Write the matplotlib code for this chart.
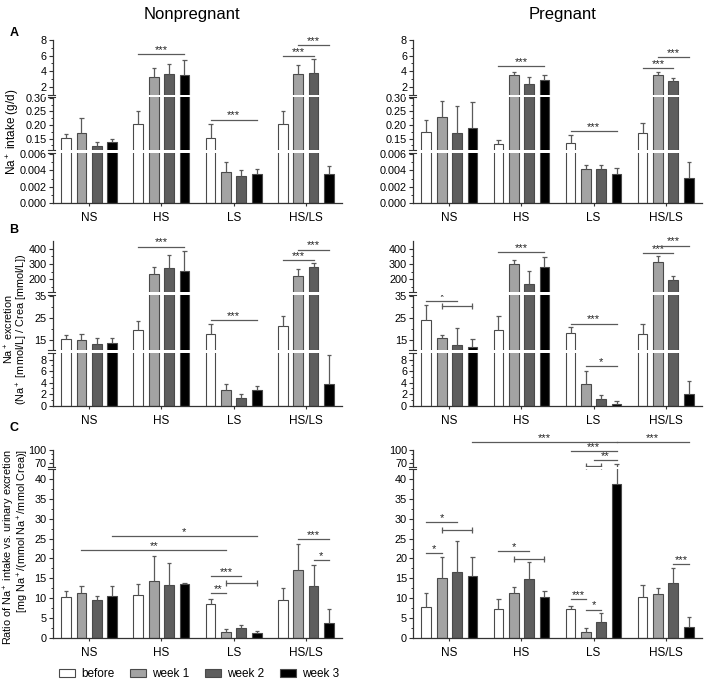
import numpy as np
import matplotlib
matplotlib.use("Agg")
import matplotlib.pyplot as plt
from matplotlib.patches import Patch

plt.rcParams['font.family'] = ['Liberation Sans', 'DejaVu Sans']
plt.rcParams['mathtext.fontset'] = 'custom'
plt.rcParams['mathtext.rm'] = 'Liberation Sans'
plt.rcParams['mathtext.it'] = 'Liberation Sans:italic'
plt.rcParams['mathtext.default'] = 'rm'

NARROW = ['Liberation Sans Narrow', 'Liberation Sans']

# ---- data (rows = NS, HS, LS, HS/LS ; cols = before, week 1, week 2, week 3)
groups = ['NS', 'HS', 'LS', 'HS/LS']
weeks = ['before', 'week 1', 'week 2', 'week 3']
bar_colors = ['#ffffff', '#a3a3a3', '#5e5e5e', '#000000']

# A: Na+ intake (g/d)
a_np_mean = [[0.151, 0.172, 0.123, 0.138],
             [0.204, 3.24, 3.6, 3.5],
             [0.153, 0.0038, 0.0033, 0.0036],
             [0.204, 3.6, 3.8, 0.0036]]
a_np_top = [[0.165, 0.227, 0.139, 0.150],
            [0.252, 4.4, 4.9, 5.4],
            [0.205, 0.0050, 0.0040, 0.0041],
            [0.253, 4.8, 5.6, 0.0045]]
a_p_mean = [[0.173, 0.228, 0.171, 0.187],
            [0.13, 3.45, 2.4, 2.85],
            [0.135, 0.0042, 0.0041, 0.0035],
            [0.172, 3.5, 2.7, 0.0031]]
a_p_top = [[0.22, 0.289, 0.269, 0.283],
           [0.146, 3.85, 3.2, 3.45],
           [0.163, 0.0047, 0.0046, 0.0043],
           [0.206, 3.85, 3.15, 0.005]]

# B: Na+ excretion
b_np_mean = [[15.3, 15.0, 13.0, 13.5],
             [19.4, 235, 275, 253],
             [17.9, 2.7, 1.4, 2.7],
             [21.2, 218, 281, 3.7]]
b_np_top = [[17.3, 17.7, 15.8, 15.8],
            [23.6, 281, 360, 387],
            [22.1, 3.8, 2.0, 3.4],
            [25.9, 266, 303, 8.9]]
b_p_mean = [[24.1, 15.8, 12.9, 12.0],
            [19.5, 300, 170, 278],
            [18.0, 3.7, 1.2, 0.3],
            [17.7, 311, 194, 2.0]]
b_p_top = [[30.8, 17.3, 20.3, 15.3],
           [25.8, 324, 253, 346],
           [20.9, 6.0, 1.85, 0.85],
           [22.4, 351, 222, 4.35]]

# C: ratio intake / excretion
c_np_mean = [[10.3, 11.4, 9.6, 10.7],
             [10.8, 14.3, 13.4, 13.5],
             [8.5, 1.5, 2.5, 1.3],
             [9.7, 17.1, 13.1, 3.9]]
c_np_top = [[11.9, 13.1, 10.5, 13.2],
            [13.7, 20.5, 18.8, 13.8],
            [9.8, 2.25, 3.3, 1.75],
            [12.5, 23.6, 18.3, 7.3]]
c_p_mean = [[7.9, 15.0, 16.55, 15.7],
            [7.4, 11.3, 14.9, 10.4],
            [7.4, 1.5, 4.1, 38.65],
            [10.3, 11.2, 13.9, 2.85]]
c_p_top = [[11.4, 20.4, 24.5, 20.4],
           [9.9, 12.9, 19.1, 11.9],
           [8.15, 2.5, 6.4, 68],
           [13.4, 12.7, 17.5, 5.4]]

# significance: (group1, bar1, group2, bar2, y, label, bracket)
a_np_sig = [(1, 0, 1, 3, 6.15, '***', False), (2, 0, 2, 3, 0.22, '***', False),
            (3, 0, 3, 2, 5.95, '***', False), (3, 1, 3, 3, 7.36, '***', False)]
a_p_sig = [(1, 0, 1, 3, 4.65, '***', False), (2, 0, 2, 3, 0.178, '***', False),
           (3, 0, 3, 2, 4.35, '***', False), (3, 1, 3, 3, 5.77, '***', False)]
b_np_sig = [(1, 0, 1, 3, 413, '***', False), (2, 0, 2, 3, 23.9, '***', False),
            (3, 0, 3, 2, 325, '***', False), (3, 1, 3, 3, 393, '***', False)]
b_p_sig = [(0, 0, 0, 2, 32.6, '*', False), (0, 1, 0, 3, 30.2, '', True),
           (1, 0, 1, 3, 378, '***', False), (2, 0, 2, 3, 22.4, '***', False),
           (2, 1, 2, 3, 6.9, '*', False), (3, 0, 3, 2, 369, '***', False),
           (3, 1, 3, 3, 420, '***', False)]
c_np_sig = [(0, 3, 2, 3, 25.6, '*', False), (0, 1, 2, 1, 22.05, '**', False),
            (2, 0, 2, 2, 15.6, '***', False), (2, 1, 2, 3, 13.8, '', True),
            (2, 0, 2, 1, 11.3, '**', False), (3, 1, 3, 3, 24.8, '***', False),
            (3, 2, 3, 3, 19.6, '*', False)]
c_p_sig = [(0, 3, 2, 3, 117.4, '***', False), (2, 3, 3, 3, 117.4, '***', False),
           (2, 0, 2, 3, 97.3, '***', False), (2, 1.5, 2, 3, 77, '**', False),
           (2, 1, 2, 2, 63.5, '', True), (0, 0, 0, 2, 29.1, '*', False),
           (0, 1, 0, 3, 27.05, '', True), (0, 0, 0, 1, 21.4, '*', False),
           (1, 0, 1, 2, 21.9, '*', False), (1, 1, 1, 3, 19.8, '', True),
           (2, 0, 2, 1, 9.75, '***', False), (2, 1, 2, 2, 7.2, '*', False),
           (3, 2, 3, 3, 18.5, '***', False)]

# broken axes: value knots -> pixel height, plus gaps and ticks
a_knots = ([0, 0.0061, 0.108, 0.303, 1.0, 8], [0, 50.3, 53.3, 106.4, 108.8, 163.3])
a_gaps = [(0.0061, 0.108), (0.303, 1.0)]
a_ticks = [0, 0.002, 0.004, 0.006, 0.15, 0.20, 0.25, 0.30, 2, 4, 6, 8]
a_labels = ['0.000', '0.002', '0.004', '0.006', '0.15', '0.20', '0.25', '0.30', '2', '4', '6', '8']
a_minor = [0.001, 0.003, 0.005, 0.125, 0.175, 0.225, 0.275, 1, 3, 5, 7]

b_knots = ([0, 9.2, 10.5, 35.5, 115, 450], [0, 52.9, 55.9, 110.9, 113.7, 164.5])
b_gaps = [(9.2, 10.5), (35.5, 115)]
b_ticks = [0, 2, 4, 6, 8, 15, 25, 35, 200, 300, 400]
b_labels = ['0', '2', '4', '6', '8', '15', '25', '35', '200', '300', '400']
b_minor = [1, 3, 5, 7, 20, 30, 150, 250, 350]

c_knots = ([0, 42.4, 63, 100], [0, 169.2, 171.8, 188.3])
c_gaps = [(42.4, 63)]
c_ticks = [0, 5, 10, 15, 20, 25, 30, 35, 40, 70, 100]
c_labels = [str(t) for t in c_ticks]
c_minor = [2.5, 7.5, 12.5, 17.5, 22.5, 27.5, 32.5, 37.5, 80, 90]

EDGE = '#4a4a4a'
LINE = '#5a5a5a'
W = 0.213


def bx(g, b):
    return g + (b - 1.5) * W


def piecewise(vals, pix):
    v = np.array(vals, float)
    p = np.array(pix, float)
    s0 = (p[1] - p[0]) / (v[1] - v[0])
    s1 = (p[-1] - p[-2]) / (v[-1] - v[-2])
    v = np.r_[v[0] - 1e3, v, v[-1] + 1e3]
    p = np.r_[p[0] - 1e3 * s0, p, p[-1] + 1e3 * s1]
    return (lambda x: np.interp(x, v, p)), (lambda y: np.interp(y, p, v))


def panel(ax, mean, top, sigs, knots, gaps, ticks, labels, minor):
    fwd, inv = piecewise(*knots)
    ax.set_yscale('function', functions=(fwd, inv))
    ax.set_xlim(-0.5, 3.5)
    ax.set_ylim(0, knots[0][-1])
    mean = np.array(mean)
    top = np.array(top)
    for b in range(4):
        xs = [bx(g, b) for g in range(4)]
        ax.bar(xs, mean[:, b], width=0.135, color=bar_colors[b],
               edgecolor=EDGE, linewidth=0.8, zorder=2)
        ax.vlines(xs, mean[:, b], top[:, b], color=LINE, lw=0.9, zorder=3)
        ax.hlines(top[:, b], np.array(xs) - 0.03, np.array(xs) + 0.03,
                  color=LINE, lw=0.9, zorder=3)
    # white breaks
    ytr = ax.get_yaxis_transform()
    for lo, hi in gaps:
        ax.axhspan(lo, hi, xmin=-0.03, xmax=1.0, color='white', zorder=5,
                   clip_on=False, lw=0)
        for yv in (lo, hi):
            ax.plot([-0.016, 0.008], [yv, yv], transform=ytr, color='#333333',
                    lw=0.8, clip_on=False, zorder=6)
    for g1, b1, g2, b2, y, lab, br in sigs:
        x1, x2 = bx(g1, b1), bx(g2, b2)
        ax.plot([x1, x2], [y, y], color=LINE, lw=0.9, clip_on=False, zorder=4)
        if br:
            ax.plot([x1, x2], [y, y], ls='none', marker='|', ms=5,
                    mew=0.9, color=LINE, clip_on=False, zorder=4)
        if lab:
            ax.annotate(lab, ((x1 + x2) / 2, y), xytext=(0, -0.5),
                        textcoords='offset points', ha='center', va='bottom',
                        fontsize=8, color='#222222', annotation_clip=False)
    ax.set_yticks(ticks)
    ax.set_yticklabels(labels, family=NARROW)
    ax.set_yticks(minor, minor=True)
    ax.set_xticks(range(4))
    ax.set_xticklabels(groups)
    ax.tick_params(axis='y', labelsize=7.8, length=3, width=0.8, color='#333333', pad=1.5)
    ax.tick_params(axis='y', which='minor', length=1.8, width=0.7, color='#333333')
    ax.tick_params(axis='x', labelsize=8.5, length=2.5, width=0.8, color='#333333', pad=4)
    for s in ('top', 'right'):
        ax.spines[s].set_visible(False)
    for s in ('left', 'bottom'):
        ax.spines[s].set_color('#333333')
        ax.spines[s].set_linewidth(0.9)


fig = plt.figure(figsize=(7.09, 6.85), dpi=100)
FW, FH = 709.0, 685.0
cols = [(53, 342), (413.3, 701.7)]
rows = [(40, 203.3), (241.2, 405.7), (450, 638.3)]
specs = [
    (a_np_mean, a_np_top, a_np_sig, a_p_mean, a_p_top, a_p_sig, a_knots, a_gaps, a_ticks, a_labels, a_minor),
    (b_np_mean, b_np_top, b_np_sig, b_p_mean, b_p_top, b_p_sig, b_knots, b_gaps, b_ticks, b_labels, b_minor),
    (c_np_mean, c_np_top, c_np_sig, c_p_mean, c_p_top, c_p_sig, c_knots, c_gaps, c_ticks, c_labels, c_minor),
]
for (t, bt), sp in zip(rows, specs):
    for ci, (l, r) in enumerate(cols):
        ax = fig.add_axes([l / FW, 1 - bt / FH, (r - l) / FW, (bt - t) / FH])
        m, tp, sg = sp[0:3] if ci == 0 else sp[3:6]
        panel(ax, m, tp, sg, *sp[6:])

# column titles and panel letters
fig.text(192 / FW, 1 - 15 / FH, 'Nonpregnant', ha='center', va='center', fontsize=12)
fig.text(563 / FW, 1 - 15 / FH, 'Pregnant', ha='center', va='center', fontsize=12)
for lab, yy in zip('ABC', (33, 230, 428)):
    fig.text(14 / FW, 1 - yy / FH, lab, ha='center', va='center', fontsize=9, fontweight='bold')

# y labels
fig.text(13 / FW, 1 - 132 / FH, 'Na$^+$ intake (g/d)', rotation=90,
         ha='center', va='center', fontsize=8.5)
fig.text(16 / FW, 1 - 329 / FH,
         'Na$^+$ excretion\n(Na$^+$ [mmol/L] / Crea [mmol/L])', rotation=90,
         ha='center', va='center', multialignment='center', fontsize=7.8,
         linespacing=0.9)
fig.text(16 / FW, 1 - 547 / FH,
         'Ratio of Na$^+$ intake vs. urinary excretion\n[mg Na$^+$/(mmol Na$^+$/mmol Crea)]',
         rotation=90, ha='center', va='center', multialignment='right',
         fontsize=7.8, linespacing=0.9)

handles = [Patch(facecolor=c, edgecolor=EDGE, linewidth=0.8) for c in bar_colors]
fig.legend(handles, weeks, ncol=4, frameon=False, loc='center left',
           bbox_to_anchor=(48 / FW, 1 - 674 / FH), fontsize=8.5,
           handlelength=1.4, handleheight=0.7, handletextpad=0.5, columnspacing=1.3)

fig.savefig('out.png', dpi=100)
